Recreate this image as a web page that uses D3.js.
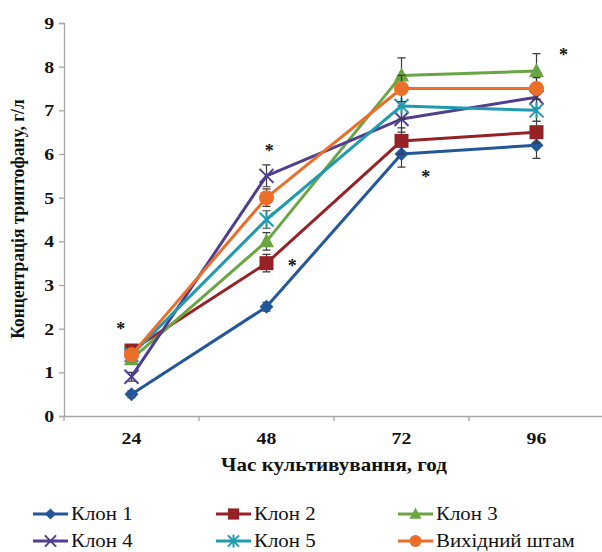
<!DOCTYPE html>
<html>
<head>
<meta charset="utf-8">
<script src="https://cdn.jsdelivr.net/npm/d3@7"></script>
<style>
  html, body { margin: 0; padding: 0; background: #fff; }
  svg { display: block; }
</style>
</head>
<body>
<svg id="chart" width="602" height="552"></svg>
<script>
// Cultivation time, hours
const hours = ["24", "48", "72", "96"];
const yTicks = [0, 1, 2, 3, 4, 5, 6, 7, 8, 9];

// Tryptophan concentration, g/l, per strain
const clone1 = [0.5, 2.5, 6.0, 6.2];
const clone2 = [1.5, 3.5, 6.3, 6.5];
const clone3 = [1.3, 4.0, 7.8, 7.9];
const clone4 = [0.9, 5.5, 6.8, 7.3];
const clone5 = [1.4, 4.5, 7.1, 7.0];
const parent = [1.4, 5.0, 7.5, 7.5];

// Standard deviations
const err1 = [0.08, 0.1, 0.3, 0.3];
const err2 = [0.1, 0.2, 0.3, 0.25];
const err3 = [0.1, 0.2, 0.4, 0.4];
const err4 = [0.1, 0.25, 0.3, 0.25];
const err5 = [0.1, 0.2, 0.3, 0.25];
const err6 = [0.1, 0.2, 0.3, 0.25];

const seriesNames = ["Клон 1", "Клон 2", "Клон 3", "Клон 4", "Клон 5", "Вихідний штам"];
const seriesColors = ["#23579b", "#962226", "#6aa543", "#4f3f8e", "#1f9bb0", "#eb6e29"];
const seriesMarkers = ["diamond", "square", "triangle", "cross", "star", "circle"];

// Significance marks: category, horizontal offset within band (fraction), value
const markHour = ["24", "48", "48", "72", "96"];
const markShift = [-0.08, 0.02, 0.19, 0.18, 0.2];
const markValue = [2.08, 6.15, 3.52, 5.56, 8.37];

const values = [clone1, clone2, clone3, clone4, clone5, parent];
const errors = [err1, err2, err3, err4, err5, err6];

const SERIF = "'Liberation Serif', 'Times New Roman', serif";
const WIDEN = 1.13; // horizontally widened lettering

const svg = d3.select("#chart");
const plotLeft = 64, plotRight = 604, plotTop = 23, plotBottom = 416;

const x = d3.scaleBand().domain(hours).range([plotLeft, plotRight]);
const y = d3.scaleLinear().domain([0, 9]).range([plotBottom, plotTop]);
const cx = h => x(h) + x.bandwidth() / 2;

function styleText(sel, size, weight) {
  return sel.style("font-family", SERIF).style("font-weight", weight)
    .style("font-size", size + "px").style("fill", "#111");
}

// Axes
const yAxis = svg.append("g").attr("transform", `translate(${plotLeft},0)`)
  .call(d3.axisLeft(y).tickValues(yTicks).tickSize(5).tickPadding(10).tickFormat(d3.format("d")));
const xAxis = svg.append("g").attr("transform", `translate(0,${plotBottom})`)
  .call(d3.axisBottom(x).tickSize(0).tickPadding(16));
// boundary ticks between categories
xAxis.selectAll(".bound").data(d3.range(hours.length + 1)).enter().append("line")
  .attr("class", "bound")
  .attr("x1", i => plotLeft + i * x.bandwidth()).attr("x2", i => plotLeft + i * x.bandwidth())
  .attr("y1", 0).attr("y2", 5);
[yAxis, xAxis].forEach(g => {
  g.attr("font-family", null).attr("font-size", null);
  g.select(".domain").attr("stroke", "#a6a6a6").attr("stroke-width", 1.3);
  g.selectAll("line").attr("stroke", "#a6a6a6").attr("stroke-width", 1.3);
  styleText(g.selectAll("text"), 17.5, "bold");
});
yAxis.selectAll("text").attr("x", -10 / WIDEN).attr("transform", `scale(${WIDEN},1)`);
xAxis.selectAll("text").attr("transform", `scale(${WIDEN},1)`);
xAxis.selectAll(".tick").each(function () {
  // keep label centred on its tick after widening
  const t = d3.select(this).select("text");
  t.attr("x", 0);
});

// Axis titles
styleText(svg.append("text"), 18, "bold")
  .attr("transform", `translate(334,471) scale(1.17,1)`).attr("text-anchor", "middle")
  .text("Час культивування, год");
styleText(svg.append("text"), 17.5, "bold")
  .attr("transform", "translate(24,219) rotate(-90) scale(1,1.1)").attr("text-anchor", "middle")
  .text("Концентрація триптофану, г/л");

// Marker drawing
function drawMarker(g, type, color, px, py, k = 1) {
  if (type === "diamond") {
    g.append("path").attr("d", `M${px},${py - 7 * k}L${px + 7 * k},${py}L${px},${py + 7 * k}L${px - 7 * k},${py}Z`)
      .attr("fill", color);
  } else if (type === "square") {
    g.append("rect").attr("x", px - 7 * k).attr("y", py - 7 * k).attr("width", 14 * k).attr("height", 14 * k)
      .attr("fill", color);
  } else if (type === "triangle") {
    g.append("path").attr("d", `M${px},${py - 8 * k}L${px + 7.5 * k},${py + 6 * k}L${px - 7.5 * k},${py + 6 * k}Z`)
      .attr("fill", color);
  } else if (type === "circle") {
    g.append("circle").attr("cx", px).attr("cy", py).attr("r", 7.5 * k).attr("fill", color);
  } else if (type === "cross") {
    const r = 7 * k;
    g.append("path").attr("d", `M${px - r},${py - r}L${px + r},${py + r}M${px - r},${py + r}L${px + r},${py - r}`)
      .attr("stroke", color).attr("stroke-width", 2).attr("fill", "none");
  } else if (type === "star") {
    const r = 7 * k;
    g.append("path").attr("d", `M${px - r},${py - r}L${px + r},${py + r}M${px - r},${py + r}L${px + r},${py - r}M${px},${py - r - 1}L${px},${py + r + 1}`)
      .attr("stroke", color).attr("stroke-width", 2).attr("fill", "none");
  }
}

const line = d3.line().x((d, i) => cx(hours[i])).y(d => y(d));

values.forEach((vals, s) => {
  const g = svg.append("g");
  // error bars
  vals.forEach((v, i) => {
    const e = errors[s][i];
    const px = cx(hours[i]);
    g.append("path")
      .attr("d", `M${px},${y(v - e)}V${y(v + e)}M${px - 4},${y(v - e)}H${px + 4}M${px - 4},${y(v + e)}H${px + 4}`)
      .attr("stroke", "#3a3a3a").attr("stroke-width", 1.2).attr("fill", "none");
  });
  g.append("path").datum(vals).attr("d", line)
    .attr("fill", "none").attr("stroke", seriesColors[s]).attr("stroke-width", 3)
    .attr("stroke-linejoin", "round");
  vals.forEach((v, i) => drawMarker(g, seriesMarkers[s], seriesColors[s], cx(hours[i]), y(v)));
});

// Significance asterisks
markHour.forEach((h, i) => {
  styleText(svg.append("text"), 18, "bold")
    .attr("x", cx(h) + markShift[i] * x.bandwidth())
    .attr("y", y(markValue[i]) + 10)
    .attr("text-anchor", "middle")
    .text("*");
});

// Legend
const legendX = [33, 216, 398];
const legendY = [514, 541];
seriesNames.forEach((name, i) => {
  const lx = legendX[i % 3], ly = legendY[Math.floor(i / 3)];
  const g = svg.append("g");
  g.append("line").attr("x1", lx).attr("x2", lx + 35).attr("y1", ly).attr("y2", ly)
    .attr("stroke", seriesColors[i]).attr("stroke-width", 3);
  drawMarker(g, seriesMarkers[i], seriesColors[i], lx + 17.5, ly, 0.8);
  styleText(g.append("text"), 18.5, "normal")
    .attr("transform", `translate(${lx + 38},${ly + 6}) scale(${WIDEN},1)`)
    .text(name);
});
</script>
</body>
</html>
